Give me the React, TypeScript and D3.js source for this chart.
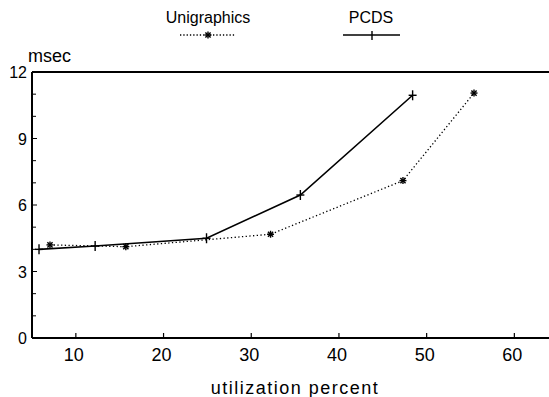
import React from "react";
import * as d3 from "d3";

const pcdsX = [5.8, 12.2, 24.9, 35.6, 48.4];
const pcdsY = [4.0, 4.15, 4.5, 6.45, 10.95];
const uniX = [7.05, 15.7, 32.2, 47.3, 55.4];
const uniY = [4.2, 4.12, 4.68, 7.1, 11.05];
const xTicks = [10, 20, 30, 40, 50, 60];
const yTicks = [0, 3, 6, 9, 12];
const yMinor = [1, 2, 4, 5, 7, 8, 10, 11];

const W = 549, H = 397;
const left = 32, top = 72, bottom = 338, right = 549;

export default function App() {
  const x = d3.scaleLinear().domain([5, 65]).range([left, left + 60 * 8.77]);
  const y = d3.scaleLinear().domain([0, 12]).range([bottom, top]);
  const line = d3.line<[number, number]>().x(d => x(d[0])).y(d => y(d[1]));
  const pcds = pcdsX.map((v, i) => [v, pcdsY[i]] as [number, number]);
  const uni = uniX.map((v, i) => [v, uniY[i]] as [number, number]);
  const font = "'Liberation Sans', Arial, sans-serif";

  const star = (cx: number, cy: number, k: string) => (
    <g key={k} stroke="#000" strokeWidth={1.4}>
      <line x1={cx - 3.5} y1={cy} x2={cx + 3.5} y2={cy} />
      <line x1={cx} y1={cy - 3.5} x2={cx} y2={cy + 3.5} />
      <line x1={cx - 2.6} y1={cy - 2.6} x2={cx + 2.6} y2={cy + 2.6} />
      <line x1={cx - 2.6} y1={cy + 2.6} x2={cx + 2.6} y2={cy - 2.6} />
    </g>
  );
  const plus = (cx: number, cy: number, k: string) => (
    <g key={k} stroke="#000" strokeWidth={1.4}>
      <line x1={cx - 4} y1={cy} x2={cx + 4} y2={cy} />
      <line x1={cx} y1={cy - 5} x2={cx} y2={cy + 5} />
    </g>
  );

  return (
    <svg width={W} height={H} style={{ position: "absolute", left: 0, top: 0, background: "#fff" }} fontFamily={font}>
      <rect width={W} height={H} fill="#fff" />
      {/* legend */}
      <text x={208} y={23} fontSize={16} textAnchor="middle">Unigraphics</text>
      <line x1={180} y1={35} x2={235} y2={35} stroke="#000" strokeWidth={1.3} strokeDasharray="1.3,2" />
      {star(208, 35, "ls")}
      <text x={371} y={23} fontSize={16} textAnchor="middle">PCDS</text>
      <line x1={343} y1={35} x2={400} y2={35} stroke="#000" strokeWidth={1.6} />
      <line x1={372} y1={31} x2={372} y2={40} stroke="#000" strokeWidth={1.4} />

      {/* frame */}
      <line x1={left} y1={top} x2={right} y2={top} stroke="#000" strokeWidth={2} />
      <line x1={left} y1={top} x2={left} y2={bottom} stroke="#000" strokeWidth={2} />
      <line x1={left} y1={bottom} x2={right} y2={bottom} stroke="#000" strokeWidth={2} />

      {yMinor.map(t => (
        <line key={"ym" + t} x1={left} x2={left + 4} y1={y(t)} y2={y(t)} stroke="#000" strokeWidth={1} />
      ))}
      {yTicks.map(t => (
        <g key={"y" + t}>
          <line x1={left} x2={left + 5} y1={y(t)} y2={y(t)} stroke="#000" strokeWidth={1} />
          <text x={27} y={y(t) + 6} fontSize={16} textAnchor="end">{t}</text>
        </g>
      ))}
      {xTicks.map(t => (
        <g key={"x" + t}>
          <line x1={x(t)} x2={x(t)} y1={bottom} y2={bottom - 5} stroke="#000" strokeWidth={1.2} />
          <text x={x(t) - 2} y={361} fontSize={18} textAnchor="middle">{t}</text>
        </g>
      ))}
      <text x={28} y={62} fontSize={18}>msec</text>
      <text x={295} y={394} fontSize={18} textAnchor="middle" letterSpacing={1.5}>utilization percent</text>

      <path d={line(uni) || ""} fill="none" stroke="#000" strokeWidth={1.3} strokeDasharray="1.3,2.4" />
      <path d={line(pcds) || ""} fill="none" stroke="#000" strokeWidth={1.6} />
      {uni.map((p, i) => star(x(p[0]), y(p[1]), "s" + i))}
      {pcds.map((p, i) => plus(x(p[0]), y(p[1]), "p" + i))}
    </svg>
  );
}
